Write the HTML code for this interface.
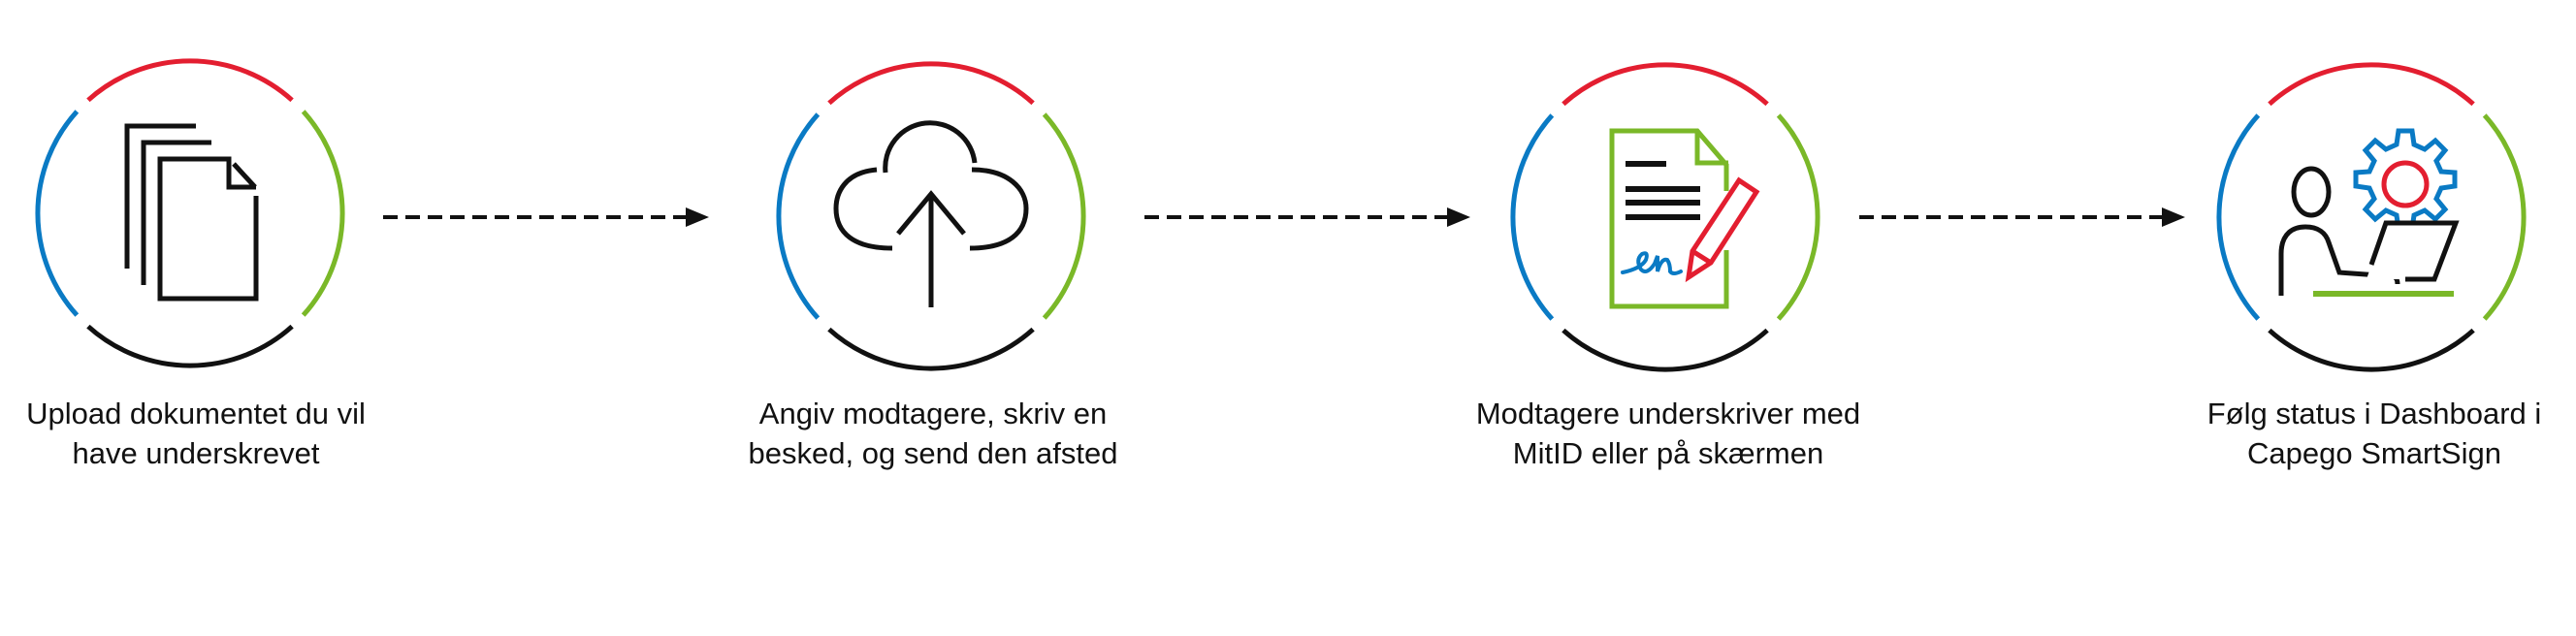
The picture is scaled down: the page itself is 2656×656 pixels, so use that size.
<!DOCTYPE html>
<html><head><meta charset="utf-8"><style>
html,body{margin:0;padding:0;background:#fff;}
body{width:2656px;height:656px;overflow:hidden;}
svg{display:block;}
text{font-family:"Liberation Sans",sans-serif;font-size:31px;fill:#111;}
</style></head><body>
<svg width="2656" height="656" viewBox="0 0 2656 656" xmlns="http://www.w3.org/2000/svg">
<defs>
<g id="ring" fill="none" stroke-width="5">
<path d="M-105.1,-116.7 A157,157 0 0 1 105.1,-116.7" stroke="#e31e30"/>
<path d="M116.7,-105.1 A157,157 0 0 1 116.7,105.1" stroke="#7ab828"/>
<path d="M105.1,116.7 A157,157 0 0 1 -105.1,116.7" stroke="#111"/>
<path d="M-116.7,105.1 A157,157 0 0 1 -116.7,-105.1" stroke="#0a7ac4"/>
</g>
<g id="arrow">
<line x1="0" y1="0" x2="312" y2="0" stroke="#111" stroke-width="4" stroke-dasharray="15 8"/>
<polygon points="336,0 312,-10 312,10" fill="#111"/>
</g>
</defs>

<use href="#ring" x="196" y="220"/>
<use href="#ring" x="960" y="223"/>
<use href="#ring" x="1717" y="224"/>
<use href="#ring" x="2445" y="224"/>

<use href="#arrow" x="395" y="224"/>
<use href="#arrow" x="1180" y="224"/>
<use href="#arrow" x="1917" y="224"/>

<!-- icon 1: documents -->
<g fill="none" stroke="#111" stroke-width="5">
<polyline points="131,277 131,130 202,130"/>
<polyline points="148,294 148,147 218,147"/>
<polyline points="264,202 264,308 165,308 165,164 236,164 236,193 264,193"/>
<line x1="241" y1="169" x2="263" y2="193"/>
</g>

<!-- icon 2: cloud upload -->
<g fill="none" stroke="#111" stroke-width="5">
<path d="M913,178 A46,46 0 0 1 1005,168"/>
<path d="M904,175 C870,178 862,200 862,215 C862,240 880,256 920,256"/>
<path d="M1002,175 C1040,175 1058,195 1058,215 C1058,240 1040,256 1000,256"/>
<line x1="960" y1="317" x2="960" y2="200"/>
<polyline points="926,241 960,200 994,241"/>
</g>

<!-- icon 3: signed doc -->
<g fill="none">
<polyline points="1780,197 1780,170 1750,135 1662,135 1662,316 1780,316 1780,258" stroke="#7ab828" stroke-width="5"/>
<polyline points="1750,135 1750,168 1782,168" stroke="#7ab828" stroke-width="5"/>
<g stroke="#111" stroke-width="6">
<line x1="1676" y1="169" x2="1718" y2="169"/>
<line x1="1676" y1="195" x2="1753" y2="195"/>
<line x1="1676" y1="209" x2="1753" y2="209"/>
<line x1="1676" y1="224" x2="1753" y2="224"/>
</g>
<polygon points="1741,286 1745,259 1793,186 1811,198 1764,271" fill="#fff" stroke="#e31e30" stroke-width="5" stroke-linejoin="miter"/>
<line x1="1745" y1="259" x2="1764" y2="271" stroke="#e31e30" stroke-width="5"/>
<path d="M1673,281 Q1692,277 1697,268 Q1700,259 1693,262 Q1686,268 1692,278 Q1698,284 1706,272 L1709,264 L1709,280 Q1713,266 1719,268 Q1722,272 1722,280 Q1725,284 1733,280" stroke="#0a7ac4" stroke-width="4" stroke-linecap="round"/>
</g>

<!-- icon 4: person + gear + laptop -->
<g>
<path fill="none" stroke="#0a7ac4" stroke-width="5" stroke-linejoin="miter" d="
M2473,135 L2487,135 L2489,149 L2500,154 L2511,145 L2521,155 L2512,166 L2517,177 L2531,178 L2531,192 L2517,194 L2512,205 L2521,216 L2511,226 L2500,217 L2489,222 L2487,236 L2473,236 L2471,222 L2460,217 L2449,226 L2439,216 L2448,205 L2443,194 L2429,192 L2429,178 L2443,177 L2448,166 L2439,155 L2449,145 L2460,154 L2471,149 Z"/>
<circle cx="2480" cy="190" r="22" fill="none" stroke="#e31e30" stroke-width="5"/>
<ellipse cx="2383" cy="198" rx="18" ry="24" fill="none" stroke="#111" stroke-width="5"/>
<path fill="none" stroke="#111" stroke-width="5" d="M2352,305 L2352,262 C2352,240 2365,234 2377,234 C2390,234 2398,240 2401,250 L2412,281 L2467,285 C2471,286 2472,289 2472,293"/>
<polygon points="2460,230 2532,230 2511,288 2440,288" fill="#fff" stroke="none"/>
<polyline points="2445,273 2460,230 2532,230 2510,288 2480,288" fill="none" stroke="#111" stroke-width="5"/>
<line x1="2385" y1="303" x2="2530" y2="303" stroke="#7ab828" stroke-width="6"/>
</g>

<!-- labels -->
<g text-anchor="middle">
<text x="202" y="437">Upload dokumentet du vil</text>
<text x="202" y="478">have underskrevet</text>
<text x="962" y="437">Angiv modtagere, skriv en</text>
<text x="962" y="478">besked, og send den afsted</text>
<text x="1720" y="437">Modtagere underskriver med</text>
<text x="1720" y="478">MitID eller på skærmen</text>
<text x="2448" y="437">Følg status i Dashboard i</text>
<text x="2448" y="478">Capego SmartSign</text>
</g>
</svg>
</body></html>
